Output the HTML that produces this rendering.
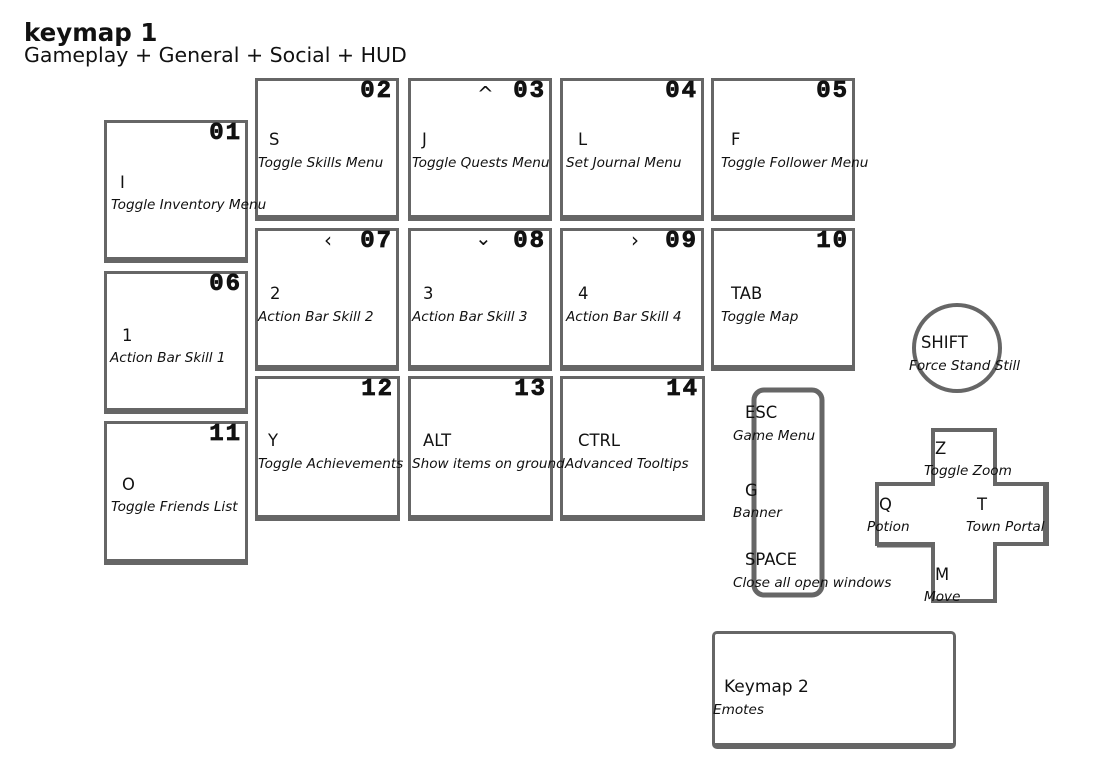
<!DOCTYPE html>
<html><head><meta charset="utf-8"><style>
html,body{margin:0;padding:0;background:#fff;}
body{width:1097px;height:769px;position:relative;overflow:hidden;font-family:"DejaVu Sans","Liberation Sans",sans-serif;color:#111;}
.b{position:absolute;box-sizing:border-box;border:3px solid #666;border-bottom-width:6px;background:#fff;}
.n{position:absolute;right:3px;top:-1px;font-family:"Liberation Mono",monospace;font-weight:bold;font-size:24px;letter-spacing:2px;color:#111;line-height:24px;-webkit-text-stroke:0.8px #111;}
.ar{position:absolute;top:-2px;font-size:20px;line-height:22px;}
.t{position:absolute;font-size:16.4px;line-height:18px;white-space:nowrap;}
.d{position:absolute;font-size:13.6px;font-style:italic;line-height:16px;white-space:nowrap;}
</style></head><body>
<div class="t" style="left:24px;top:19px;font-size:24.5px;font-weight:bold;line-height:28px;">keymap 1</div>
<div class="t" style="left:24px;top:43px;font-size:20.5px;line-height:24px;">Gameplay + General + Social + HUD</div>

<div class="b" style="left:104px;top:120px;width:144px;height:143px;"><div class="n">01</div></div>
<div class="b" style="left:255px;top:78px;width:144px;height:143px;"><div class="n">02</div></div>
<div class="b" style="left:408px;top:78px;width:144px;height:143px;"><div class="n">03</div><div class="ar" style="left:66px;top:2px;">^</div></div>
<div class="b" style="left:560px;top:78px;width:144px;height:143px;"><div class="n">04</div></div>
<div class="b" style="left:711px;top:78px;width:144px;height:143px;"><div class="n">05</div></div>
<div class="b" style="left:104px;top:271px;width:144px;height:143px;"><div class="n">06</div></div>
<div class="b" style="left:255px;top:228px;width:144px;height:143px;"><div class="n">07</div><div class="ar" style="left:66px;">&lsaquo;</div></div>
<div class="b" style="left:408px;top:228px;width:144px;height:143px;"><div class="n">08</div><div class="ar" style="left:64px;top:-4px;">&#8964;</div></div>
<div class="b" style="left:560px;top:228px;width:144px;height:143px;"><div class="n">09</div><div class="ar" style="left:68px;">&rsaquo;</div></div>
<div class="b" style="left:711px;top:228px;width:144px;height:143px;"><div class="n">10</div></div>
<div class="b" style="left:104px;top:421px;width:144px;height:144px;"><div class="n">11</div></div>
<div class="b" style="left:255px;top:376px;width:145px;height:145px;"><div class="n">12</div></div>
<div class="b" style="left:408px;top:376px;width:145px;height:145px;"><div class="n">13</div></div>
<div class="b" style="left:560px;top:376px;width:145px;height:145px;"><div class="n">14</div></div>
<div class="b" style="left:712px;top:631px;width:244px;height:118px;border-radius:5px;"></div>

<svg style="position:absolute;left:0;top:0" width="1097" height="769">
<rect x="754" y="390" width="68" height="205" rx="10" fill="none" stroke="#666" stroke-width="5"/>
<circle cx="957" cy="348" r="43" fill="none" stroke="#666" stroke-width="4"/>
<polygon points="933,430 995,430 995,484 1047,484 1047,544 995,544 995,601 933,601 933,544 877,544 877,484 933,484" fill="none" stroke="#666" stroke-width="4"/>
<line x1="1046" y1="484" x2="1046" y2="546" stroke="#666" stroke-width="6"/>
<line x1="877" y1="545" x2="933" y2="545" stroke="#666" stroke-width="5"/>
</svg>

<div class="t" style="left:120px;top:174px;">I</div><div class="d" style="left:111px;top:197px;">Toggle Inventory Menu</div>
<div class="t" style="left:269px;top:131px;">S</div><div class="d" style="left:258px;top:155px;">Toggle Skills Menu</div>
<div class="t" style="left:422px;top:131px;">J</div><div class="d" style="left:412px;top:155px;">Toggle Quests Menu</div>
<div class="t" style="left:578px;top:131px;">L</div><div class="d" style="left:566px;top:155px;">Set Journal Menu</div>
<div class="t" style="left:731px;top:131px;">F</div><div class="d" style="left:721px;top:155px;">Toggle Follower Menu</div>
<div class="t" style="left:122px;top:327px;">1</div><div class="d" style="left:110px;top:350px;">Action Bar Skill 1</div>
<div class="t" style="left:270px;top:285px;">2</div><div class="d" style="left:258px;top:309px;">Action Bar Skill 2</div>
<div class="t" style="left:423px;top:285px;">3</div><div class="d" style="left:412px;top:309px;">Action Bar Skill 3</div>
<div class="t" style="left:578px;top:285px;">4</div><div class="d" style="left:566px;top:309px;">Action Bar Skill 4</div>
<div class="t" style="left:731px;top:285px;">TAB</div><div class="d" style="left:721px;top:309px;">Toggle Map</div>
<div class="t" style="left:122px;top:476px;">O</div><div class="d" style="left:111px;top:499px;">Toggle Friends List</div>
<div class="t" style="left:268px;top:432px;">Y</div><div class="d" style="left:258px;top:456px;">Toggle Achievements</div>
<div class="t" style="left:423px;top:432px;">ALT</div><div class="d" style="left:412px;top:456px;">Show items on ground</div>
<div class="t" style="left:578px;top:432px;">CTRL</div><div class="d" style="left:565px;top:456px;">Advanced Tooltips</div>
<div class="t" style="left:921px;top:334px;">SHIFT</div><div class="d" style="left:909px;top:358px;">Force Stand Still</div>
<div class="t" style="left:745px;top:404px;">ESC</div><div class="d" style="left:733px;top:428px;">Game Menu</div>
<div class="t" style="left:745px;top:482px;">G</div><div class="d" style="left:733px;top:505px;">Banner</div>
<div class="t" style="left:745px;top:551px;">SPACE</div><div class="d" style="left:733px;top:575px;">Close all open windows</div>
<div class="t" style="left:935px;top:440px;">Z</div><div class="d" style="left:924px;top:463px;">Toggle Zoom</div>
<div class="t" style="left:879px;top:496px;">Q</div><div class="d" style="left:867px;top:519px;">Potion</div>
<div class="t" style="left:977px;top:496px;">T</div><div class="d" style="left:966px;top:519px;">Town Portal</div>
<div class="t" style="left:935px;top:566px;">M</div><div class="d" style="left:924px;top:589px;">Move</div>
<div class="t" style="left:724px;top:678px;font-size:17px;">Keymap 2</div><div class="d" style="left:713px;top:702px;">Emotes</div>
</body></html>
